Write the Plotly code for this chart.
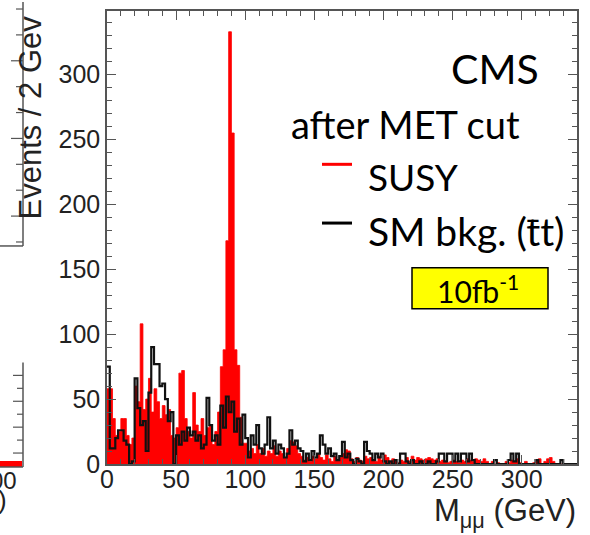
import numpy as np
import plotly.graph_objects as go

# ---------------- data (2 GeV bins, 0-340 GeV) ----------------
bin_width = 2
x_min, x_max = 0, 340

susy = [
    58, 58, 35, 22, 25, 35, 35, 22, 15, 20,      # 0-20
    60, 48, 108, 42, 50, 66, 40, 58, 48, 35,     # 20-40
    45, 38, 42, 22, 20, 28, 70, 72, 35, 25,      # 40-60
    20, 55, 30, 25, 35, 22, 28, 30, 15, 25,      # 60-80
    40, 75, 88, 172, 333, 255, 88, 76, 36, 16,   # 80-100
    16, 10, 12, 8, 15, 8, 12, 6, 10, 8,          # 100-120
    14, 6, 10, 8, 5, 12, 18, 17, 14, 8,          # 120-140
    6, 3, 5, 2, 6, 4, 8, 5, 3, 7,                # 140-160
    4, 2, 6, 3, 5, 8, 11, 10, 4, 2,              # 160-180
    5, 3, 2, 6, 4, 5, 3, 2, 6, 3,                # 180-200
    7, 5, 2, 4, 3, 1, 3, 2, 5, 2,                # 200-220
    6, 3, 5, 4, 3, 4, 5, 4, 3, 4,                # 220-240
    2, 3, 2, 1, 2, 3, 2, 1, 3, 2,                # 240-260
    4, 3, 2, 4, 3, 2, 4, 2, 0, 2,                # 260-280
    0, 1, 0, 0, 2, 1, 3, 2, 4, 1,                # 280-300
    0, 2, 0, 0, 1, 3, 4, 0, 2, 4,                # 300-320
    5, 2, 0, 0, 0, 0, 0, 0, 0, 0,                # 320-340
]

sm_bkg = [
    75, 12, 12, 20, 26, 26, 18, 15, 0, 2,        # 0-20
    66, 43, 30, 33, 10, 55, 90, 77, 77, 60,      # 20-40
    62, 50, 33, 40, 0, 22, 15, 25, 18, 28,       # 40-60
    22, 25, 18, 22, 12, 15, 51, 30, 18, 22,      # 60-80
    15, 45, 28, 52, 40, 48, 25, 35, 15, 38,      # 80-100
    20, 5, 22, 15, 30, 12, 8, 15, 36, 12,        # 100-120
    18, 8, 15, 12, 5, 8, 26, 15, 18, 12,         # 120-140
    10, 2, 8, 3, 10, 5, 8, 22, 15, 8,            # 140-160
    12, 6, 8, 3, 6, 17, 5, 8, 3, 0,              # 160-180
    4, 2, 0, 17, 10, 8, 3, 8, 5, 8,              # 180-200
    2, 0, 2, 0, 3, 0, 8, 8, 2, 0,                # 200-220
    3, 0, 0, 2, 0, 0, 2, 0, 0, 2,                # 220-240
    8, 8, 2, 8, 8, 2, 8, 2, 8, 8,                # 240-260
    2, 8, 3, 0, 0, 0, 0, 0, 0, 0,                # 260-280
    3, 0, 0, 0, 0, 3, 8, 2, 8, 0,                # 280-300
    0, 0, 0, 0, 0, 3, 0, 0, 0, 0,                # 300-320
    0, 0, 0, 0, 3, 0, 0, 0, 0, 0,                # 320-340
]

x_tick_vals = [0, 50, 100, 150, 200, 250, 300]
x_tick_text = ["0", "50", "100", "150", "200", "250", "300"]
y_tick_vals = [0, 50, 100, 150, 200, 250, 300]
y_tick_text = ["0", "50", "100", "150", "200", "250", "300"]

legend_labels = ["SUSY", "SM bkg. (t\u0304t)"]
legend_colors = ["#ff0000", "#000000"]

# ---------------- geometry ----------------
W, H = 590, 535
L, R, T, B = 107, 577, 9, 464


def px(x):
    return (x - L) / (R - L)


def py(y):
    return (B - y) / (B - T)


edges = list(np.arange(x_min, x_max + bin_width, bin_width))

fig = go.Figure()

fig.add_trace(go.Scatter(
    x=edges, y=susy + [susy[-1]], mode="lines", line_shape="hv",
    line=dict(color="#ff0000", width=0.8), fill="tozeroy", fillcolor="#ff0000",
    hoverinfo="skip", showlegend=False))

fig.add_trace(go.Scatter(
    x=edges, y=sm_bkg + [sm_bkg[-1]], mode="lines", line_shape="hv",
    line=dict(color="#111111", width=2.2),
    hoverinfo="skip", showlegend=False))

axis_common = dict(
    showline=True, linecolor="#555555", linewidth=1.5, mirror="allticks",
    ticks="inside", ticklen=9, tickwidth=1.3, tickcolor="#555555",
    showgrid=False, zeroline=False,
    tickfont=dict(family="Liberation Sans", size=25, color="#222222"),
    minor=dict(ticks="inside", ticklen=5, tickwidth=1.2, tickcolor="#555555", dtick=10),
)

fig.update_xaxes(range=[x_min, x_max], tickmode="array", tickvals=x_tick_vals,
                 ticktext=x_tick_text, ticklabelstandoff=-8, **axis_common)
fig.update_yaxes(range=[0, 349], tickmode="array", tickvals=y_tick_vals,
                 ticktext=y_tick_text, **axis_common)

shapes = []
annotations = []
txt_font = "Lato"

# CMS / header texts
annotations.append(dict(x=px(541), y=py(67), xref="paper", yref="paper", text="CMS",
                        showarrow=False, xanchor="right", yanchor="middle",
                        font=dict(family=txt_font, size=41, color="black")))
annotations.append(dict(x=px(289), y=py(123), xref="paper", yref="paper", text="after MET cut",
                        showarrow=False, xanchor="left", yanchor="middle",
                        font=dict(family=txt_font, size=38, color="black")))

# legend
leg_y = [163, 222]
leg_ty = [175, 230]
leg_size = [37, 39]
for lab, col, ly, ty, fs in zip(legend_labels, legend_colors, leg_y, leg_ty, leg_size):
    shapes.append(dict(type="line", xref="paper", yref="paper", x0=px(322), x1=px(352),
                       y0=py(ly), y1=py(ly), line=dict(color=col, width=3)))
    annotations.append(dict(x=px(366), y=py(ty), xref="paper", yref="paper", text=lab,
                            showarrow=False, xanchor="left", yanchor="middle",
                            font=dict(family=txt_font, size=fs, color="black")))

# luminosity box
shapes.append(dict(type="rect", xref="paper", yref="paper", x0=px(412), x1=px(548),
                   y0=py(308), y1=py(267), fillcolor="#ffff00",
                   line=dict(color="black", width=1.5), layer="above"))
annotations.append(dict(x=px(478), y=py(288), xref="paper", yref="paper",
                        text="10fb<sup>-1</sup>", showarrow=False,
                        xanchor="center", yanchor="middle",
                        font=dict(family=txt_font, size=30, color="black")))

# axis titles
annotations.append(dict(x=px(31), y=py(116), xref="paper", yref="paper",
                        text="Events / 2 Gev", textangle=-90, showarrow=False,
                        xanchor="center", yanchor="middle",
                        font=dict(family="Liberation Sans", size=31, color="#222222")))
annotations.append(dict(x=px(578), y=py(513), xref="paper", yref="paper",
                        text="M<sub>\u03bc\u03bc</sub> (GeV)", showarrow=False,
                        xanchor="right", yanchor="middle",
                        font=dict(family="Liberation Sans", size=31, color="#222222")))

# fragment of neighbouring panel at the left edge
frag_col = "#555555"
shapes.append(dict(type="line", xref="paper", yref="paper", x0=px(23), x1=px(23),
                   y0=py(0), y1=py(245), line=dict(color=frag_col, width=1.5)))
shapes.append(dict(type="line", xref="paper", yref="paper", x0=px(0), x1=px(23),
                   y0=py(245), y1=py(245), line=dict(color=frag_col, width=1.5)))
for i, ty in enumerate(range(7, 245, 26)):
    ln = 12 if i % 3 == 2 else 7
    shapes.append(dict(type="line", xref="paper", yref="paper", x0=px(23 - ln), x1=px(23),
                       y0=py(ty), y1=py(ty), line=dict(color=frag_col, width=1.2)))
shapes.append(dict(type="line", xref="paper", yref="paper", x0=px(23), x1=px(23),
                   y0=py(362), y1=py(467), line=dict(color=frag_col, width=1.5)))
shapes.append(dict(type="rect", xref="paper", yref="paper", x0=px(0), x1=px(22),
                   y0=py(467), y1=py(461), fillcolor="#ff0000", line=dict(width=0)))
shapes.append(dict(type="line", xref="paper", yref="paper", x0=px(0), x1=px(23),
                   y0=py(467), y1=py(467), line=dict(color=frag_col, width=1.5)))
for i, ty in enumerate(range(375, 462, 13)):
    ln = 10 if i % 2 == 0 else 6
    shapes.append(dict(type="line", xref="paper", yref="paper", x0=px(23 - ln), x1=px(23),
                       y0=py(ty), y1=py(ty), line=dict(color=frag_col, width=1.2)))
annotations.append(dict(x=px(19), y=py(481), xref="paper", yref="paper", text="00",
                        showarrow=False, xanchor="right", yanchor="middle",
                        font=dict(family="Liberation Sans", size=24, color="#222222")))
annotations.append(dict(x=px(9), y=py(500), xref="paper", yref="paper", text=")",
                        showarrow=False, xanchor="right", yanchor="middle",
                        font=dict(family="Liberation Sans", size=26, color="#222222")))

fig.update_layout(
    width=W, height=H,
    margin=dict(l=L, r=W - R, t=T, b=H - B, pad=0),
    paper_bgcolor="white", plot_bgcolor="white",
    showlegend=False,
    shapes=shapes, annotations=annotations,
)

fig.write_html("out.html")
